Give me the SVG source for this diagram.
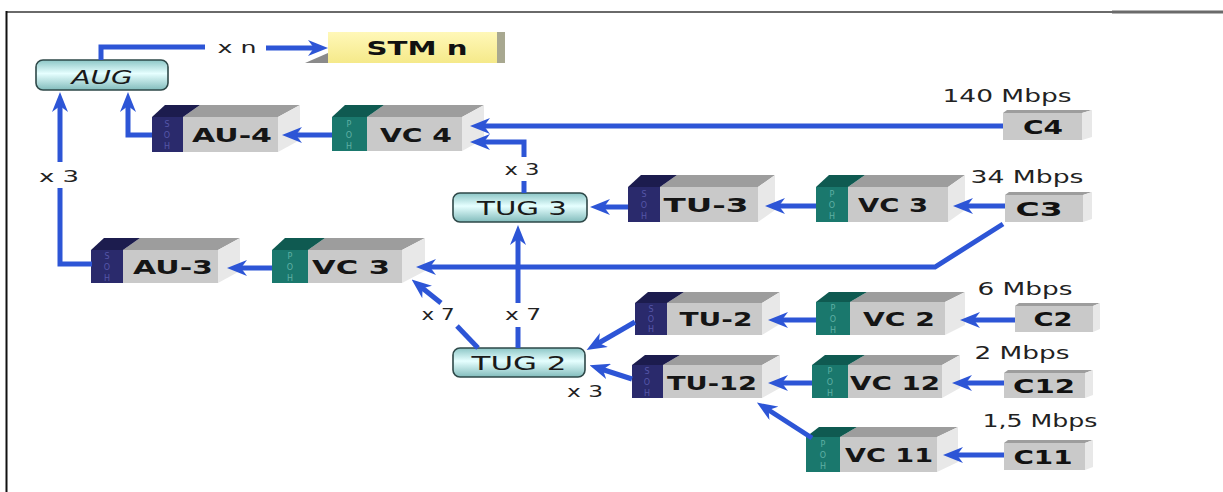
<svg xmlns="http://www.w3.org/2000/svg" width="1223" height="492" viewBox="0 0 1223 492">
<style>
.bg{fill:#fff}
.frame{stroke:#6a6a6a;stroke-width:2;fill:none}
.sf{fill:#2a2a6c}.st{fill:#1c1c4e}
.pf{fill:#1a786d}.pt{fill:#0f5a51}
.gf{fill:#c9c9c9}.gt{fill:#9d9d9d}.gr{fill:#e8e8e8}
.oh{font-family:"DejaVu Sans",sans-serif;font-size:8px;text-anchor:middle}
.soh{fill:#5656a8}.poh{fill:#5fb0a4}
.lbl{font-family:"DejaVu Sans","Liberation Sans",sans-serif;font-size:19px;font-weight:bold;fill:#151515;text-anchor:middle}
.glbl{font-family:"DejaVu Sans","Liberation Sans",sans-serif;font-size:19px;font-weight:normal;fill:#1a1a1a;text-anchor:middle}
.cl{font-family:"DejaVu Sans","Liberation Sans",sans-serif;font-size:20px;font-weight:bold;fill:#111;text-anchor:middle}
.rate{font-family:"DejaVu Sans","Liberation Sans",sans-serif;font-size:18px;fill:#222;text-anchor:middle}
.mul{font-family:"DejaVu Sans","Liberation Sans",sans-serif;font-size:16px;fill:#222;text-anchor:middle}
.grp{fill:url(#cyan);stroke:#2e4848;stroke-width:1.6}
.ln{fill:none;stroke:#2d55d6;stroke-width:5;stroke-linejoin:miter}
.ar{marker-end:url(#ah)}
</style>
<defs>
<linearGradient id="cyan" x1="0" y1="0" x2="0" y2="1">
<stop offset="0" stop-color="#8cc6c6"/><stop offset="0.45" stop-color="#e6ffff"/><stop offset="1" stop-color="#82bcbc"/>
</linearGradient>
<linearGradient id="yel" x1="0" y1="0" x2="0" y2="1">
<stop offset="0" stop-color="#fff8b8"/><stop offset="1" stop-color="#f5e98a"/>
</linearGradient>
<marker id="ah" viewBox="0 0 20 16" refX="8" refY="8" markerWidth="20" markerHeight="16" markerUnits="userSpaceOnUse" orient="auto">
<path d="M0,0 L20,8 L0,16 L6,8 z" fill="#2d55d6"/>
</marker>
</defs>
<rect class="bg" x="0" y="0" width="1223" height="492"/>
<g id="frame">
<line class="frame" x1="6" y1="12" x2="1223" y2="12"/>
<line x1="1112" y1="12" x2="1223" y2="12" stroke="#6a6a6a" stroke-width="3"/>
<line x1="6.5" y1="11" x2="6.5" y2="492" stroke="#111" stroke-width="2"/>
</g>

<g id="stm">
<polygon points="305,63 328,53 328,63" fill="#8a8a8a"/>
<rect x="328" y="32" width="170" height="31" fill="url(#yel)"/>
<rect x="497" y="32" width="8" height="31" fill="#a8a890"/>
<text class="cl" x="417" y="55" textLength="101" lengthAdjust="spacingAndGlyphs">STM n</text>
</g>

<g id="aug">
<rect class="grp" x="36" y="60" width="132" height="30" rx="7"/>
<text class="glbl" x="102" y="84" font-style="italic" textLength="61" lengthAdjust="spacingAndGlyphs">AUG</text>
</g>
<g id="tug3">
<rect class="grp" x="453" y="193" width="134" height="29" rx="7"/>
<text class="glbl" x="522" y="215" textLength="90" lengthAdjust="spacingAndGlyphs">TUG 3</text>
</g>
<g id="tug2">
<rect class="grp" x="453" y="348" width="132" height="29" rx="7"/>
<text class="glbl" x="519" y="370" textLength="95" lengthAdjust="spacingAndGlyphs">TUG 2</text>
</g>

<g id="au4">
<polygon class="gt" points="183,117 200,105 300,105 278,117"/>
<polygon class="st" points="152,117 165,105 200,105 183,117"/>
<polygon class="gr" points="278,117 300,105 300,140 278,152"/>
<rect class="sf" x="152" y="117" width="31" height="35"/>
<rect class="gf" x="183" y="117" width="95" height="35"/>
<text class="oh soh" x="167" y="127">S</text><text class="oh soh" x="167" y="138">O</text><text class="oh soh" x="167" y="149">H</text>
<text class="lbl" x="232" y="142" textLength="80" lengthAdjust="spacingAndGlyphs">AU-4</text>
</g>
<g id="vc4">
<polygon class="gt" points="367,117 384,105 484,105 462,117"/>
<polygon class="pt" points="332,117 345,105 384,105 367,117"/>
<polygon class="gr" points="462,117 484,105 484,139 462,151"/>
<rect class="pf" x="332" y="117" width="35" height="34"/>
<rect class="gf" x="367" y="117" width="95" height="34"/>
<text class="oh poh" x="349" y="127">P</text><text class="oh poh" x="349" y="138">O</text><text class="oh poh" x="349" y="149">H</text>
<text class="lbl" x="416" y="142" textLength="72" lengthAdjust="spacingAndGlyphs">VC 4</text>
</g>
<g id="c4">
<polygon class="gt" points="1003,113 1007,110 1092,110 1082,113"/>
<polygon class="gr" points="1082,113 1092,110 1092,137 1082,140"/>
<rect class="gf" x="1003" y="113" width="79" height="27"/>
<text class="cl" x="1043" y="134" textLength="40" lengthAdjust="spacingAndGlyphs">C4</text>
<text class="rate" x="1007" y="102" textLength="129" lengthAdjust="spacingAndGlyphs">140 Mbps</text>
</g>

<g id="tu3">
<polygon class="gt" points="660,187 677,175 775,175 758,187"/>
<polygon class="st" points="628,187 641,175 677,175 660,187"/>
<polygon class="gr" points="758,187 775,175 775,210 758,222"/>
<rect class="sf" x="628" y="187" width="32" height="35"/>
<rect class="gf" x="660" y="187" width="98" height="35"/>
<text class="oh soh" x="644" y="197">S</text><text class="oh soh" x="644" y="208">O</text><text class="oh soh" x="644" y="219">H</text>
<text class="lbl" x="706" y="212" textLength="85" lengthAdjust="spacingAndGlyphs">TU-3</text>
</g>
<g id="vc3r">
<polygon class="gt" points="848,187 865,175 965,175 948,187"/>
<polygon class="pt" points="816,187 829,175 865,175 848,187"/>
<polygon class="gr" points="948,187 965,175 965,210 948,222"/>
<rect class="pf" x="816" y="187" width="32" height="35"/>
<rect class="gf" x="848" y="187" width="100" height="35"/>
<text class="oh poh" x="832" y="197">P</text><text class="oh poh" x="832" y="208">O</text><text class="oh poh" x="832" y="219">H</text>
<text class="lbl" x="893" y="212" textLength="70" lengthAdjust="spacingAndGlyphs">VC 3</text>
</g>
<g id="c3">
<polygon class="gt" points="1005,195 1009,192 1092,192 1083,195"/>
<polygon class="gr" points="1083,195 1092,192 1092,219 1083,222"/>
<rect class="gf" x="1005" y="195" width="78" height="27"/>
<text class="cl" x="1039" y="216" textLength="47" lengthAdjust="spacingAndGlyphs">C3</text>
<text class="rate" x="1027" y="183" textLength="113" lengthAdjust="spacingAndGlyphs">34 Mbps</text>
</g>

<g id="au3">
<polygon class="gt" points="123,250 140,238 240,238 218,250"/>
<polygon class="st" points="91,250 104,238 140,238 123,250"/>
<polygon class="gr" points="218,250 240,238 240,271 218,283"/>
<rect class="sf" x="91" y="250" width="32" height="33"/>
<rect class="gf" x="123" y="250" width="95" height="33"/>
<text class="oh soh" x="107" y="259">S</text><text class="oh soh" x="107" y="270">O</text><text class="oh soh" x="107" y="281">H</text>
<text class="lbl" x="173" y="274" textLength="80" lengthAdjust="spacingAndGlyphs">AU-3</text>
</g>
<g id="vc3l">
<polygon class="gt" points="308,250 325,238 425,238 402,250"/>
<polygon class="pt" points="272,250 285,238 325,238 308,250"/>
<polygon class="gr" points="402,250 425,238 425,271 402,283"/>
<rect class="pf" x="272" y="250" width="36" height="33"/>
<rect class="gf" x="308" y="250" width="94" height="33"/>
<text class="oh poh" x="290" y="259">P</text><text class="oh poh" x="290" y="270">O</text><text class="oh poh" x="290" y="281">H</text>
<text class="lbl" x="351" y="274" textLength="78" lengthAdjust="spacingAndGlyphs">VC 3</text>
</g>

<g id="tu2">
<polygon class="gt" points="667,303 684,292 780,292 762,303"/>
<polygon class="st" points="635,303 648,292 684,292 667,303"/>
<polygon class="gr" points="762,303 780,292 780,324 762,335"/>
<rect class="sf" x="635" y="303" width="32" height="32"/>
<rect class="gf" x="667" y="303" width="95" height="32"/>
<text class="oh soh" x="651" y="312">S</text><text class="oh soh" x="651" y="322">O</text><text class="oh soh" x="651" y="332">H</text>
<text class="lbl" x="716" y="326" textLength="73" lengthAdjust="spacingAndGlyphs">TU-2</text>
</g>
<g id="vc2">
<polygon class="gt" points="850,302 867,292 965,292 945,302"/>
<polygon class="pt" points="816,302 829,292 867,292 850,302"/>
<polygon class="gr" points="945,302 965,292 965,325 945,335"/>
<rect class="pf" x="816" y="302" width="34" height="33"/>
<rect class="gf" x="850" y="302" width="95" height="33"/>
<text class="oh poh" x="833" y="311">P</text><text class="oh poh" x="833" y="322">O</text><text class="oh poh" x="833" y="333">H</text>
<text class="lbl" x="899" y="326" textLength="72" lengthAdjust="spacingAndGlyphs">VC 2</text>
</g>
<g id="c2">
<polygon class="gt" points="1015,306 1019,303 1100,303 1093,306"/>
<polygon class="gr" points="1093,306 1100,303 1100,329 1093,332"/>
<rect class="gf" x="1015" y="306" width="78" height="26"/>
<text class="cl" x="1053" y="326" textLength="39" lengthAdjust="spacingAndGlyphs">C2</text>
<text class="rate" x="1025" y="295" textLength="95" lengthAdjust="spacingAndGlyphs">6 Mbps</text>
</g>

<g id="tu12">
<polygon class="gt" points="663,365 680,355 780,355 762,365"/>
<polygon class="st" points="632,365 645,355 680,355 663,365"/>
<polygon class="gr" points="762,365 780,355 780,388 762,398"/>
<rect class="sf" x="632" y="365" width="31" height="33"/>
<rect class="gf" x="663" y="365" width="99" height="33"/>
<text class="oh soh" x="647" y="374">S</text><text class="oh soh" x="647" y="385">O</text><text class="oh soh" x="647" y="396">H</text>
<text class="lbl" x="712" y="390" textLength="90" lengthAdjust="spacingAndGlyphs">TU-12</text>
</g>
<g id="vc12">
<polygon class="gt" points="848,365 865,355 960,355 942,365"/>
<polygon class="pt" points="812,365 825,355 865,355 848,365"/>
<polygon class="gr" points="942,365 960,355 960,388 942,398"/>
<rect class="pf" x="812" y="365" width="36" height="33"/>
<rect class="gf" x="848" y="365" width="94" height="33"/>
<text class="oh poh" x="830" y="374">P</text><text class="oh poh" x="830" y="385">O</text><text class="oh poh" x="830" y="396">H</text>
<text class="lbl" x="895" y="390" textLength="90" lengthAdjust="spacingAndGlyphs">VC 12</text>
</g>
<g id="c12">
<polygon class="gt" points="1004,373 1008,370 1093,370 1085,373"/>
<polygon class="gr" points="1085,373 1093,370 1093,395 1085,398"/>
<rect class="gf" x="1004" y="373" width="81" height="25"/>
<text class="cl" x="1044" y="393" textLength="62" lengthAdjust="spacingAndGlyphs">C12</text>
<text class="rate" x="1022" y="359" textLength="95" lengthAdjust="spacingAndGlyphs">2 Mbps</text>
</g>

<g id="vc11">
<polygon class="gt" points="840,437 857,427 958,427 937,437"/>
<polygon class="pt" points="806,437 819,427 857,427 840,437"/>
<polygon class="gr" points="937,437 958,427 958,462 937,472"/>
<rect class="pf" x="806" y="437" width="34" height="35"/>
<rect class="gf" x="840" y="437" width="97" height="35"/>
<text class="oh poh" x="823" y="447">P</text><text class="oh poh" x="823" y="458">O</text><text class="oh poh" x="823" y="469">H</text>
<text class="lbl" x="889" y="462" textLength="88" lengthAdjust="spacingAndGlyphs">VC 11</text>
</g>
<g id="c11">
<polygon class="gt" points="1004,443 1008,440 1093,440 1085,443"/>
<polygon class="gr" points="1085,443 1093,440 1093,467 1085,470"/>
<rect class="gf" x="1004" y="443" width="81" height="27"/>
<text class="cl" x="1043" y="464" textLength="59" lengthAdjust="spacingAndGlyphs">C11</text>
<text class="rate" x="1040" y="427" textLength="115" lengthAdjust="spacingAndGlyphs">1,5 Mbps</text>
</g>

<g id="connectors">
<path class="ln" d="M101,60 V47 H205"/>
<path class="ln ar" d="M266,48 H316"/>
<path class="ln ar" d="M152,135 H128 V104"/>
<path class="ln" d="M92,264 H60 V188"/>
<path class="ln ar" d="M60,162 V104"/>
<path class="ln ar" d="M332,135 H294"/>
<path class="ln ar" d="M1003,126 H482"/>
<path class="ln" d="M524,193 V181"/>
<path class="ln ar" d="M524,157 V142 H482"/>
<path class="ln ar" d="M628,207 H602"/>
<path class="ln ar" d="M816,206 H777"/>
<path class="ln ar" d="M1005,206 H965"/>
<path class="ln ar" d="M1003,224 L935,267 H428"/>
<path class="ln ar" d="M272,268 H239"/>
<path class="ln" d="M478,348 L457,326"/>
<path class="ln ar" d="M441,303 L421,287"/>
<path class="ln" d="M518,348 V327"/>
<path class="ln ar" d="M518,303 V237"/>
<path class="ln ar" d="M635,322 L597,344"/>
<path class="ln ar" d="M632,379 L601,369"/>
<path class="ln ar" d="M816,320 H780"/>
<path class="ln ar" d="M1015,320 H972"/>
<path class="ln ar" d="M812,383 H780"/>
<path class="ln ar" d="M1004,383 H964"/>
<path class="ln ar" d="M1004,455 H955"/>
<path class="ln ar" d="M812,438 L767,409"/>
<text class="mul" x="237" y="53" textLength="39" lengthAdjust="spacingAndGlyphs">x n</text>
<text class="mul" x="59" y="182" textLength="40" lengthAdjust="spacingAndGlyphs">x 3</text>
<text class="mul" x="522" y="175" textLength="35" lengthAdjust="spacingAndGlyphs">x 3</text>
<text class="mul" x="438" y="320" textLength="33" lengthAdjust="spacingAndGlyphs">x 7</text>
<text class="mul" x="523" y="320" textLength="36" lengthAdjust="spacingAndGlyphs">x 7</text>
<text class="mul" x="585" y="397" textLength="36" lengthAdjust="spacingAndGlyphs">x 3</text>
</g>
</svg>
